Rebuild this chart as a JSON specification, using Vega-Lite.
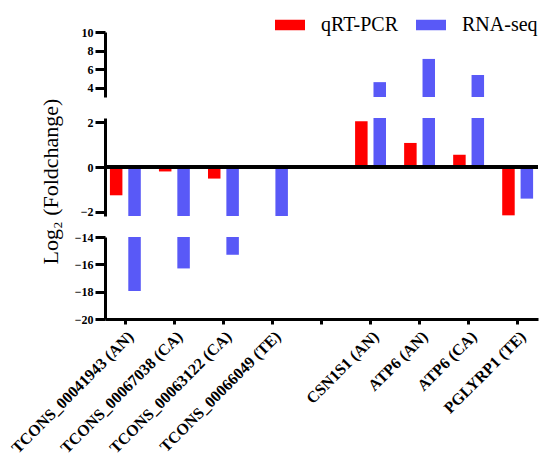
{
  "$schema": "https://vega.github.io/schema/vega-lite/v6.json",
  "background": "white",
  "padding": {"left": 8, "top": 10, "right": 5, "bottom": 5},
  "datasets": {
    "expr": [
      {"gene": "TCONS_00041943 (AN)", "method": "qRT-PCR", "value": -1.27},
      {"gene": "TCONS_00041943 (AN)", "method": "RNA-seq", "value": -17.95},
      {"gene": "TCONS_00067038 (CA)", "method": "qRT-PCR", "value": -0.2},
      {"gene": "TCONS_00067038 (CA)", "method": "RNA-seq", "value": -16.3},
      {"gene": "TCONS_00063122 (CA)", "method": "qRT-PCR", "value": -0.52},
      {"gene": "TCONS_00063122 (CA)", "method": "RNA-seq", "value": -15.3},
      {"gene": "TCONS_00066049 (TE)", "method": "qRT-PCR", "value": -0.07},
      {"gene": "TCONS_00066049 (TE)", "method": "RNA-seq", "value": -2.2},
      {"gene": "CSN1S1 (AN)", "method": "qRT-PCR", "value": 2.05},
      {"gene": "CSN1S1 (AN)", "method": "RNA-seq", "value": 4.6},
      {"gene": "ATP6 (AN)", "method": "qRT-PCR", "value": 1.08},
      {"gene": "ATP6 (AN)", "method": "RNA-seq", "value": 7.1},
      {"gene": "ATP6 (CA)", "method": "qRT-PCR", "value": 0.55},
      {"gene": "ATP6 (CA)", "method": "RNA-seq", "value": 5.37},
      {"gene": "PGLYRP1 (TE)", "method": "qRT-PCR", "value": -2.17},
      {"gene": "PGLYRP1 (TE)", "method": "RNA-seq", "value": -1.42}
    ]
  },
  "config": {
    "view": {"stroke": null},
    "font": "Liberation Serif",
    "style": {
      "guide-label": {"font": "Liberation Serif"},
      "guide-title": {"font": "Liberation Serif"}
    },
    "axis": {
      "grid": false,
      "domainColor": "black",
      "domainWidth": 3,
      "tickColor": "black",
      "tickWidth": 3,
      "labelColor": "black",
      "labelFont": "Liberation Serif",
      "labelFontWeight": "bold"
    },
    "legend": {
      "orient": "none",
      "legendX": 170,
      "legendY": -22,
      "direction": "horizontal",
      "title": null,
      "symbolType": "M-1,-0.35H1V0.35H-1Z",
      "symbolSize": 900,
      "symbolStrokeWidth": 0,
      "symbolOpacity": 1,
      "labelFont": "Liberation Serif",
      "labelFontSize": 20,
      "labelColor": "black",
      "labelOffset": 16,
      "columnPadding": 18
    }
  },
  "resolve": {"scale": {"y": "independent", "color": "shared"}},
  "bounds": "flush",
  "spacing": 21,
  "vconcat": [
    {
      "width": 433,
      "height": 65,
      "data": {"name": "expr"},
      "mark": {"type": "bar"},
      "encoding": {
        "x": {
          "field": "gene", "type": "nominal", "sort": null,
          "scale": {
            "domain": ["TCONS_00041943 (AN)", "TCONS_00067038 (CA)", "TCONS_00063122 (CA)", "TCONS_00066049 (TE)", "", "CSN1S1 (AN)", "ATP6 (AN)", "ATP6 (CA)", "PGLYRP1 (TE)"],
            "paddingInner": 0.37, "paddingOuter": 0.1
          },
          "axis": null
        },
        "xOffset": {"field": "method", "type": "nominal", "scale": {"domain": ["qRT-PCR", "RNA-seq"], "paddingInner": 0.32, "paddingOuter": 0}},
        "y": {
          "field": "value", "type": "quantitative",
          "scale": {"domain": [3, 10], "nice": false, "zero": false, "clamp": true},
          "axis": {"values": [4, 6, 8, 10], "title": null, "labelFontSize": 12, "tickSize": 10, "labelPadding": 2}
        },
        "y2": {"datum": 0},
        "color": {
          "field": "method", "type": "nominal",
          "scale": {"domain": ["qRT-PCR", "RNA-seq"], "range": ["#FF0000", "#5959F7"]}
        }
      }
    },
    {
      "width": 433,
      "height": 98,
      "data": {"name": "expr"},
      "layer": [
        {
          "mark": {"type": "bar"},
          "encoding": {
            "x": {
              "field": "gene", "type": "nominal", "sort": null,
              "scale": {
                "domain": ["TCONS_00041943 (AN)", "TCONS_00067038 (CA)", "TCONS_00063122 (CA)", "TCONS_00066049 (TE)", "", "CSN1S1 (AN)", "ATP6 (AN)", "ATP6 (CA)", "PGLYRP1 (TE)"],
                "paddingInner": 0.37, "paddingOuter": 0.1
              },
              "axis": null
            },
            "xOffset": {"field": "method", "type": "nominal", "scale": {"domain": ["qRT-PCR", "RNA-seq"], "paddingInner": 0.32, "paddingOuter": 0}},
            "y": {
              "field": "value", "type": "quantitative",
              "scale": {"domain": [-2.2, 2.2], "nice": false, "zero": false, "clamp": true},
              "axis": {
                "values": [-2, -1, 0, 1, 2], "labelFontSize": 12, "tickSize": 10, "labelPadding": 2,
                "title": "Log₂ (Foldchange)", "titleFont": "Liberation Serif", "titleFontWeight": "normal",
                "titleFontSize": 22, "titleColor": "black", "titleAngle": 270,
                "titleAlign": "center", "titleBaseline": "middle", "titleX": -55, "titleY": 63
              }
            },
            "y2": {"datum": 0},
            "color": {
              "field": "method", "type": "nominal",
              "scale": {"domain": ["qRT-PCR", "RNA-seq"], "range": ["#FF0000", "#5959F7"]}
            }
          }
        },
        {
          "mark": {"type": "rule", "color": "black", "strokeWidth": 2.5},
          "encoding": {"y": {"datum": 0}}
        }
      ]
    },
    {
      "width": 433,
      "height": 82,
      "data": {"name": "expr"},
      "mark": {"type": "bar"},
      "encoding": {
        "x": {
          "field": "gene", "type": "nominal", "sort": null,
          "scale": {
            "domain": ["TCONS_00041943 (AN)", "TCONS_00067038 (CA)", "TCONS_00063122 (CA)", "TCONS_00066049 (TE)", "", "CSN1S1 (AN)", "ATP6 (AN)", "ATP6 (CA)", "PGLYRP1 (TE)"],
            "paddingInner": 0.37, "paddingOuter": 0.1
          },
          "axis": {
            "title": null, "labelAngle": -45, "labelAlign": "right", "labelBaseline": "top",
            "labelFont": "Liberation Serif", "labelFontSize": 16, "tickSize": 5, "labelPadding": 4
          }
        },
        "xOffset": {"field": "method", "type": "nominal", "scale": {"domain": ["qRT-PCR", "RNA-seq"], "paddingInner": 0.32, "paddingOuter": 0}},
        "y": {
          "field": "value", "type": "quantitative",
          "scale": {"domain": [-20, -14], "nice": false, "zero": false, "clamp": true},
          "axis": {"values": [-20, -18, -16, -14], "title": null, "labelFontSize": 12, "tickSize": 10, "labelPadding": 2}
        },
        "y2": {"datum": 0},
        "color": {
          "field": "method", "type": "nominal",
          "scale": {"domain": ["qRT-PCR", "RNA-seq"], "range": ["#FF0000", "#5959F7"]}
        }
      }
    }
  ]
}
